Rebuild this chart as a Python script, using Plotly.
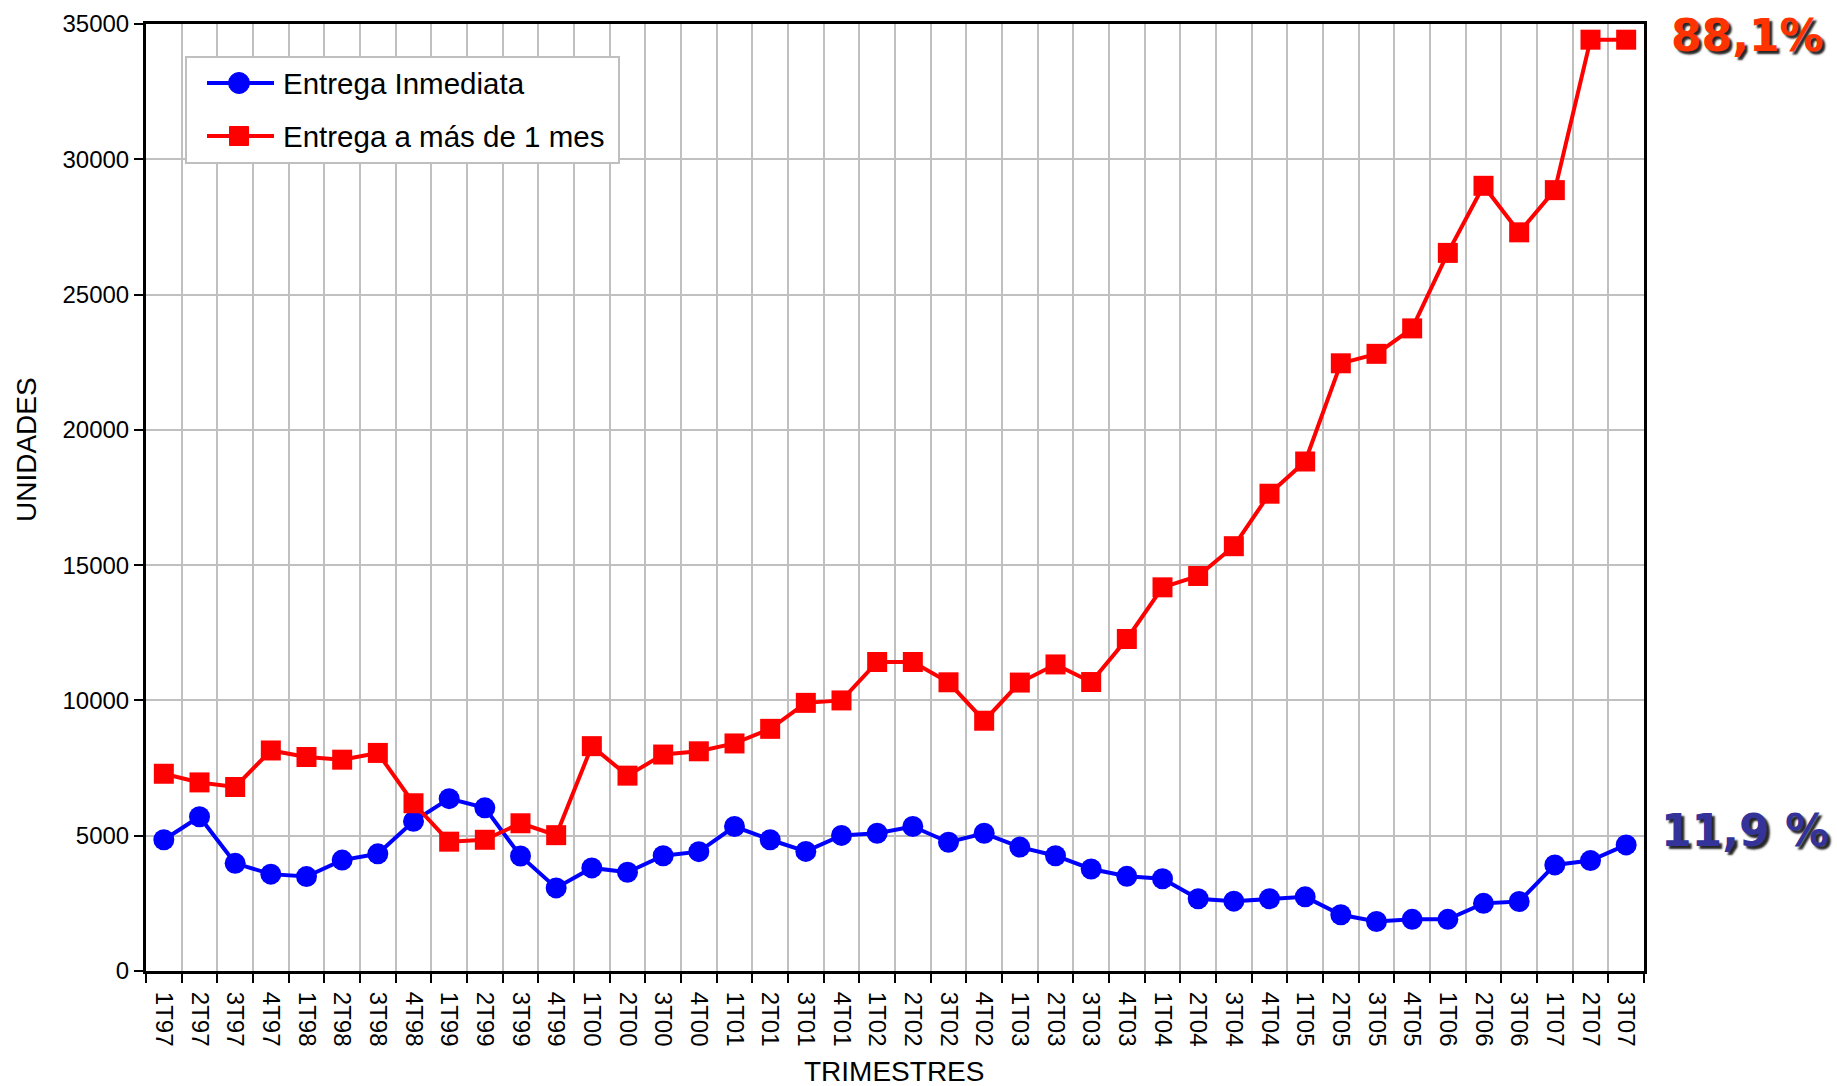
import plotly.graph_objects as go

# Trimestres (4T06 no aparece en el original)
trimestres = [
    "1T97", "2T97", "3T97", "4T97", "1T98", "2T98", "3T98", "4T98",
    "1T99", "2T99", "3T99", "4T99", "1T00", "2T00", "3T00", "4T00",
    "1T01", "2T01", "3T01", "4T01", "1T02", "2T02", "3T02", "4T02",
    "1T03", "2T03", "3T03", "4T03", "1T04", "2T04", "3T04", "4T04",
    "1T05", "2T05", "3T05", "4T05", "1T06", "2T06", "3T06",
    "1T07", "2T07", "3T07",
]

entrega_inmediata = [
    4850, 5700, 3980, 3580, 3490, 4100, 4330, 5530,
    6370, 6030, 4250, 3070, 3810, 3650, 4260, 4410,
    5340, 4850, 4420, 5010, 5090, 5340, 4760, 5090,
    4580, 4260, 3770, 3500, 3410, 2670, 2580, 2670,
    2740, 2080, 1830, 1910, 1910, 2500, 2570,
    3920, 4080, 4660,
]

entrega_mas_1_mes = [
    7290, 6970, 6800, 8150, 7910, 7810, 8060, 6200,
    4780, 4850, 5460, 5020, 8310, 7220, 8000, 8120,
    8410, 8950, 9910, 10000, 11420, 11420, 10670, 9250,
    10660, 11330, 10680, 12270, 14180, 14600, 15700, 17640,
    18830, 22460, 22810, 23750, 26540, 29020, 27300,
    28860, 34420, 34420,
]

series = [
    ("Entrega Inmediata", entrega_inmediata, "#0000FF", "circle"),
    ("Entrega a más de 1 mes", entrega_mas_1_mes, "#FF0000", "square"),
]

GRID = "#C0C0C0"
FONT = "Liberation Sans, Arial, sans-serif"

# figure / plot-area geometry (pixels)
W, H = 1837, 1086
ML, MR, MT, MB = 146, 193, 24, 115
PW, PH = W - ML - MR, H - MT - MB


def px(x, y):
    """pixel position in the figure -> paper coordinates"""
    return (x - ML) / PW, (H - MB - y) / PH


fig = go.Figure()
for name, vals, color, symbol in series:
    fig.add_scatter(
        x=trimestres, y=vals, mode="lines+markers", name=name,
        line=dict(color=color, width=4),
        marker=dict(symbol=symbol, size=21 if symbol == "circle" else 20, color=color),
        showlegend=False,
    )

fig.update_layout(
    width=W, height=H,
    margin=dict(l=ML, r=MR, t=MT, b=MB, autoexpand=False),
    paper_bgcolor="white", plot_bgcolor="white",
    font=dict(family=FONT, size=24, color="black"),
)

fig.update_xaxes(
    type="category", tickson="boundaries", tickangle=90,
    range=[-0.5, len(trimestres) - 0.5], automargin=False,
    ticks="outside", ticklen=9, tickwidth=2, tickcolor="black",
    ticklabelstandoff=13,
    showgrid=True, gridcolor=GRID, gridwidth=2,
    showline=True, linecolor="black", linewidth=3, mirror=True,
    tickfont=dict(size=24),
)
fig.update_yaxes(
    range=[0, 35000], dtick=5000, tickformat="d", automargin=False,
    ticks="outside", ticklen=9, tickwidth=2, tickcolor="black",
    showgrid=True, gridcolor=GRID, gridwidth=2, zeroline=False,
    showline=True, linecolor="black", linewidth=3, mirror=True,
    tickfont=dict(size=24),
)

# Leyenda dibujada a mano (caja, línea+marcador, texto)
bx0, by0 = px(186, 57)
bx1, by1 = px(619, 163)
fig.add_shape(type="rect", xref="paper", yref="paper", x0=bx0, y0=by0, x1=bx1, y1=by1,
              line=dict(color="#BFBFBF", width=2), fillcolor="white", layer="above")
for i, (name, vals, color, symbol) in enumerate(series):
    cy = 83 + 53 * i
    lx0, ly = px(207, cy)
    lx1, _ = px(274, cy)
    fig.add_shape(type="line", xref="paper", yref="paper", x0=lx0, y0=ly, x1=lx1, y1=ly,
                  line=dict(color=color, width=4), layer="above")
    r = 10.5 if symbol == "circle" else 9.5
    mx0, my0 = px(239 - r, cy + r)
    mx1, my1 = px(239 + r, cy - r)
    fig.add_shape(type="circle" if symbol == "circle" else "rect",
                  xref="paper", yref="paper", x0=mx0, y0=my0, x1=mx1, y1=my1,
                  line=dict(color=color, width=1), fillcolor=color, layer="above")
    tx, ty = px(281, cy)
    fig.add_annotation(text=name, xref="paper", yref="paper", x=tx, y=ty,
                       xanchor="left", yanchor="middle", showarrow=False,
                       font=dict(size=29.5))

# Títulos de ejes
ux, uy = px(26, 450)
fig.add_annotation(
    text="UNIDADES", xref="paper", yref="paper", x=ux, y=uy,
    xanchor="center", yanchor="middle",
    textangle=-90, showarrow=False, font=dict(size=28),
)
tx, ty = px(894, 1071)
fig.add_annotation(
    text="TRIMESTRES", xref="paper", yref="paper", x=tx, y=ty,
    xanchor="center", yanchor="middle", showarrow=False, font=dict(size=28),
)

# Porcentajes finales
shadow = "3px 3px 2px rgba(0,0,0,0.85)"
ax, ay = px(1669, 36)
fig.add_annotation(
    text="88,1%", xref="paper", yref="paper", x=ax, y=ay,
    xanchor="left", yanchor="middle", showarrow=False,
    font=dict(family="DejaVu Sans", size=44, color="#FF3300", weight="bold", shadow=shadow),
)
ax, ay = px(1659, 830)
fig.add_annotation(
    text="11,9 %", xref="paper", yref="paper", x=ax, y=ay,
    xanchor="left", yanchor="middle", showarrow=False,
    font=dict(family="DejaVu Sans", size=44, color="#333399", weight="bold", shadow=shadow),
)

# sin margen del <body>, para que la figura ocupe exactamente la ventana
fig.write_html(
    "out.html",
    config={"displayModeBar": False},
    post_script="document.body.style.margin = '0';",
)
